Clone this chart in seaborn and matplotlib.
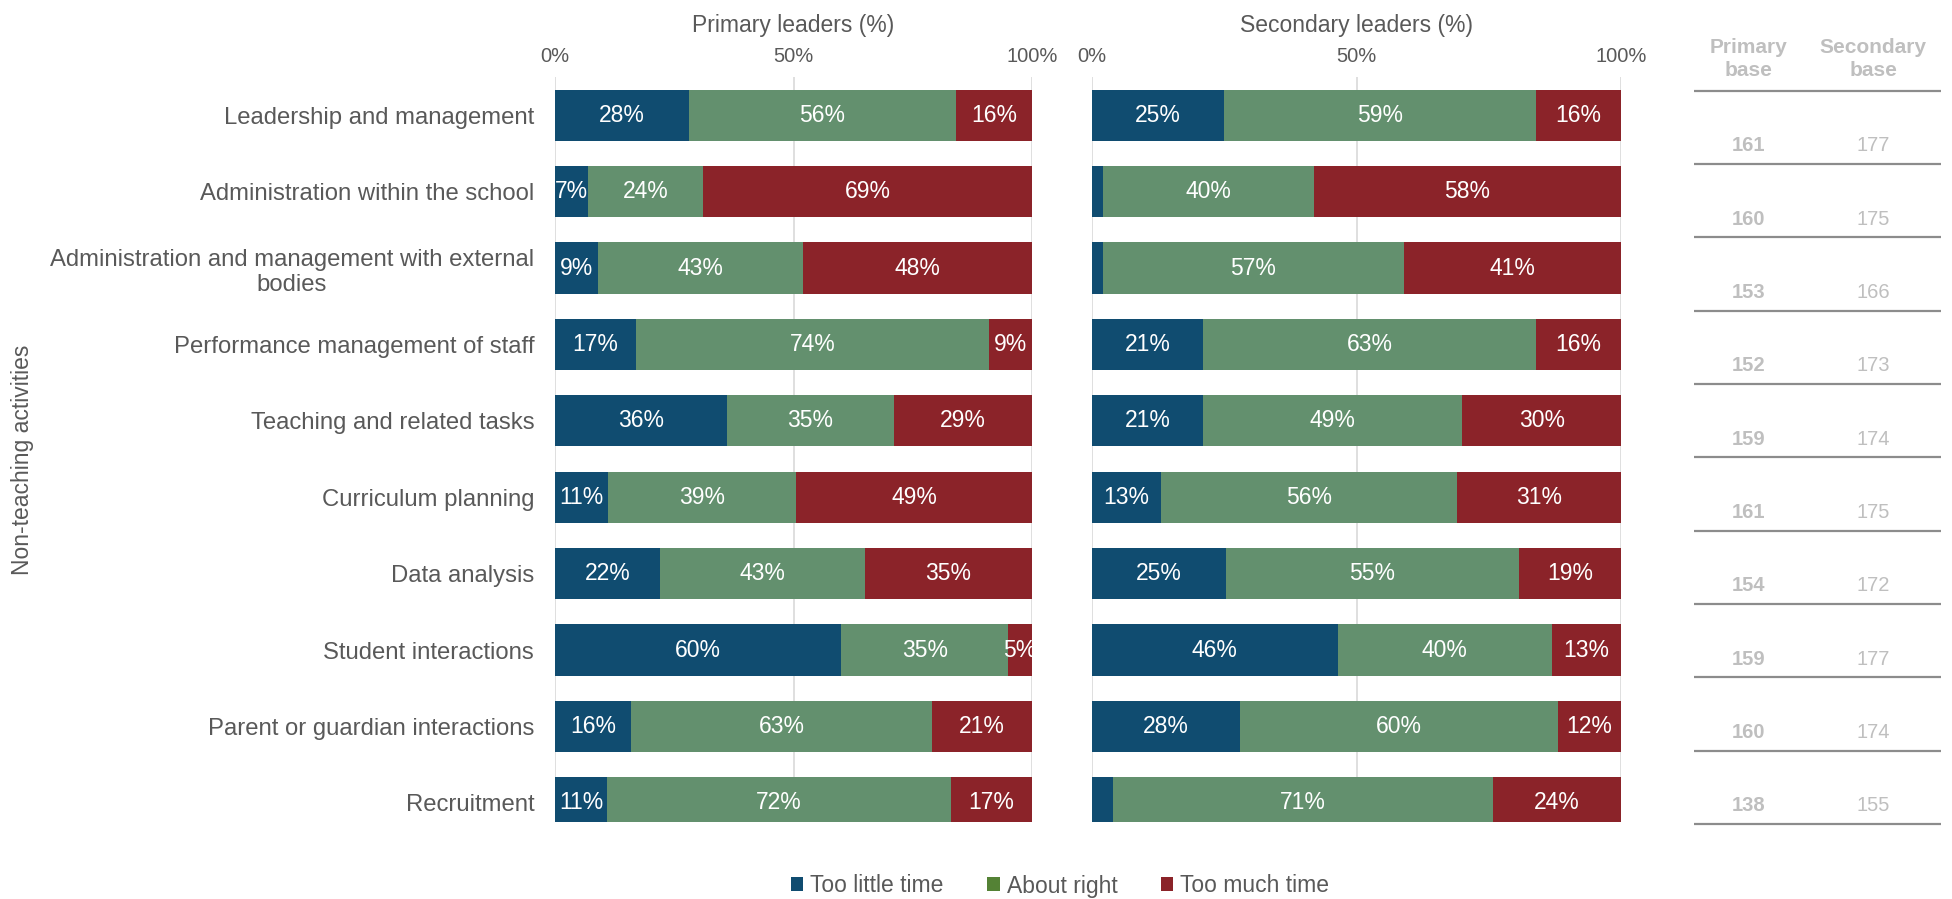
import numpy as np
import pandas as pd
import matplotlib
matplotlib.use("Agg")
import matplotlib.pyplot as plt
import seaborn as sns
from matplotlib.patches import Patch

# ---------------- data ----------------
categories = [
    "Leadership and management",
    "Administration within the school",
    "Administration and management with external\nbodies",
    "Performance management of staff",
    "Teaching and related tasks",
    "Curriculum planning",
    "Data analysis",
    "Student interactions",
    "Parent or guardian interactions",
    "Recruitment",
]
series_names = ["Too little time", "About right", "Too much time"]

primary_too_little = [28, 7, 9, 17, 36, 11, 22, 60, 16, 11]
primary_about_right = [56, 24, 43, 74, 35, 39, 43, 35, 63, 72]
primary_too_much = [16, 69, 48, 9, 29, 49, 35, 5, 21, 17]

secondary_too_little = [25, 2, 2, 21, 21, 13, 25, 46, 28, 4]
secondary_about_right = [59, 40, 57, 63, 49, 56, 55, 40, 60, 71]
secondary_too_much = [16, 58, 41, 16, 30, 31, 19, 13, 12, 24]

primary_base = [161, 160, 153, 152, 159, 161, 154, 159, 160, 138]
secondary_base = [177, 175, 166, 173, 174, 175, 172, 177, 174, 155]

tick_values = [0, 50, 100]
tick_labels = ["0%", "50%", "100%"]
panel_titles = ["Primary leaders (%)", "Secondary leaders (%)"]
table_headers = ["Primary\nbase", "Secondary\nbase"]
y_title = "Non-teaching activities"

# ---------------- style ----------------
sns.set_theme(style="white")
plt.rcParams["font.family"] = ["Liberation Sans", "DejaVu Sans"]

bar_colors = ["#104C70", "#63906E", "#8B2329"]
legend_colors = ["#104C70", "#548235", "#8B2329"]
text_gray = "#595959"
table_gray = "#BFBFBF"
grid_gray = "#D9D9D9"

W, H = 1952, 899
fig = plt.figure(figsize=(W / 100, H / 100), dpi=100)

ax_top_px, ax_bot_px = 77, 822
bottom = 1 - ax_bot_px / H
height = (ax_bot_px - ax_top_px) / H

panels = [
    (555, 1032, [primary_too_little, primary_about_right, primary_too_much]),
    (1092, 1621, [secondary_too_little, secondary_about_right, secondary_too_much]),
]

for pi, (x0, x1, series) in enumerate(panels):
    ax = fig.add_axes([x0 / W, bottom, (x1 - x0) / W, height])
    vals = np.array(series, dtype=float)  # 3 x n
    totals = vals.sum(axis=0)
    pct = vals / totals * 100
    cum = np.cumsum(pct, axis=0)
    # draw from outermost cumulative to innermost so segments stack
    for si in [2, 1, 0]:
        df = pd.DataFrame({"cat": categories, "value": cum[si]})
        sns.barplot(data=df, x="value", y="cat", orient="h", color=bar_colors[si],
                    width=0.67, saturation=1, linewidth=0, ax=ax, zorder=2)
    # segment labels
    for si in range(3):
        for ri in range(len(categories)):
            v = series[si][ri]
            if v < 5:
                continue
            center = cum[si][ri] - pct[si][ri] / 2
            ax.text(center, ri, f"{v}%", ha="center", va="center", color="white",
                    fontsize=16.5, zorder=3)
    ax.set_xlim(0, 100)
    ax.set_ylim(9.25, -0.5)
    ax.set_xticks(tick_values)
    ax.set_xticklabels(tick_labels)
    ax.xaxis.tick_top()
    ax.xaxis.set_label_position("top")
    ax.set_xlabel(panel_titles[pi], fontsize=16.5, color=text_gray, labelpad=11)
    ax.tick_params(axis="x", length=0, pad=8, labelsize=14.5, labelcolor=text_gray)
    for xv in tick_values:
        ax.axvline(xv, color=grid_gray, lw=1.2, zorder=0)
    for s in ax.spines.values():
        s.set_visible(False)
    ax.set_ylabel("")
    if pi == 0:
        ax.tick_params(axis="y", length=0, pad=15, labelsize=17.2, labelcolor=text_gray)
        for lbl in ax.get_yticklabels():
            lbl.set_multialignment("center")
    else:
        ax.set_yticks([])
    ax.grid(False)

fig.text(23 / W, 1 - 460 / H, y_title, rotation=90, ha="center", va="center",
         fontsize=16.5, color=text_gray)

# ---------------- base table ----------------
tx0, tx1 = 1694, 1941
ty0, ty1 = 90.7, 824
tax = fig.add_axes([tx0 / W, 1 - ty1 / H, (tx1 - tx0) / W, (ty1 - ty0) / H])
tax.set_xlim(0, 1)
tax.set_ylim(len(categories), 0)
tax.axis("off")
col_x = [0.219, 0.725]
for ci, hdr in enumerate(table_headers):
    tax.text(col_x[ci], -0.43, hdr, ha="center", va="center", fontsize=15,
             fontweight="bold", color=table_gray, clip_on=False, linespacing=1.3)
for k in range(len(categories) + 1):
    tax.plot([0, 1], [k, k], color="#8C8C8C", lw=1.6, clip_on=False,
             solid_capstyle="butt")
for ri in range(len(categories)):
    tax.text(col_x[0], ri + 0.75, str(primary_base[ri]), ha="center", va="center",
             fontsize=14.5, fontweight="bold", color=table_gray, clip_on=False)
    tax.text(col_x[1], ri + 0.75, str(secondary_base[ri]), ha="center", va="center",
             fontsize=14.5, color=table_gray, clip_on=False)

# ---------------- legend ----------------
handles = [Patch(facecolor=c, edgecolor="none") for c in legend_colors]
fig.legend(handles, series_names, loc="center", bbox_to_anchor=(1060 / W, 1 - 886 / H),
           ncol=3, frameon=False, fontsize=16.5, handlelength=0.55, handleheight=0.55,
           handletextpad=0.3, columnspacing=1.9, labelcolor=text_gray)

fig.savefig("out.png", dpi=100)
